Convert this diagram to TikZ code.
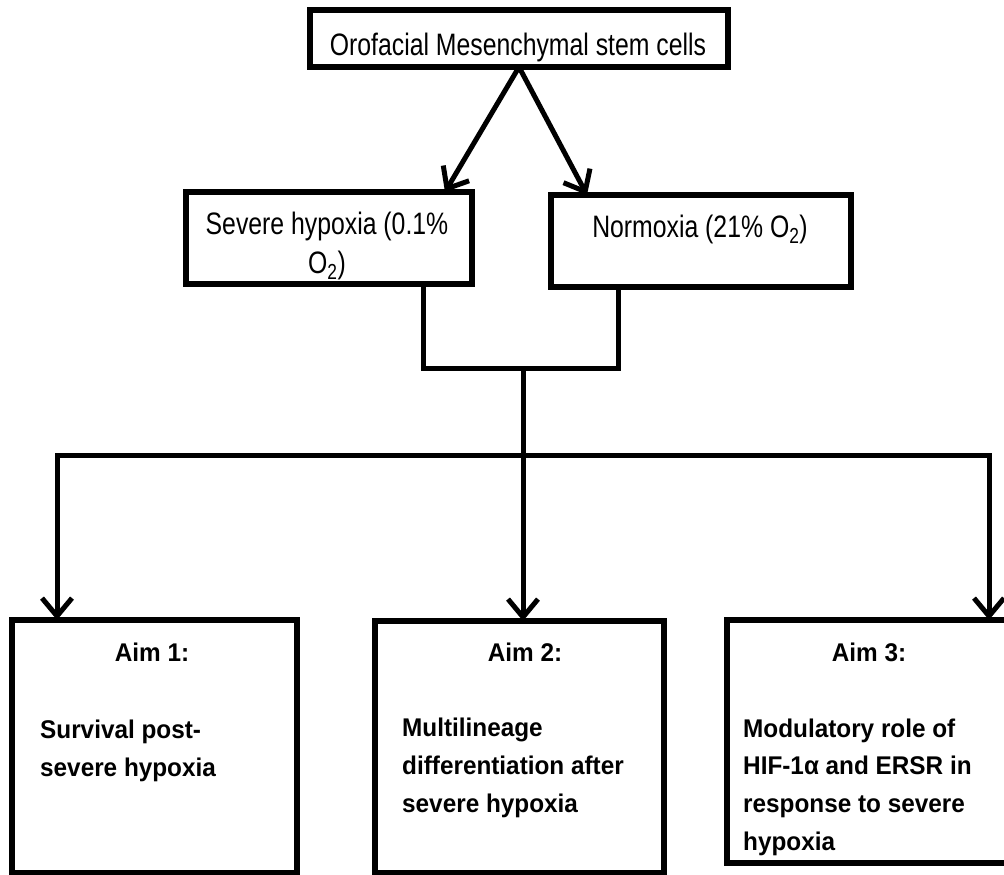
\documentclass[tikz,border=0pt]{standalone}
\usepackage{fontspec}
\setmainfont{Liberation Sans}
\newfontfamily\rfont[FakeStretch=0.8]{Liberation Sans}
\newfontfamily\bfont[FakeStretch=0.95]{Liberation Sans}
\usetikzlibrary{arrows.meta}
\begin{document}
\begin{tikzpicture}[x=1bp,y=-1bp,
  box/.style={draw, line width=5.5bp, inner sep=0pt, outer sep=0pt, anchor=north west},
  conn/.style={line width=5bp},
  arr/.style={conn, -{Straight Barb[length=18bp,width=30bp]}},
  rtxt/.style={font=\rfont\fontsize{31bp}{39bp}\selectfont, inner sep=0pt, anchor=base, align=center},
  btxt/.style={font=\bfont\bfseries\fontsize{25.6bp}{37.6bp}\selectfont, inner sep=0pt, anchor=base west, align=left}]
\path[fill=white, use as bounding box] (0,0) rectangle (1004,875);
% boxes
\node[box, minimum width=418bp, minimum height=57bp] (top) at (310,10) {};
\node[box, minimum width=286bp, minimum height=92bp] (sev) at (186,192) {};
\node[box, minimum width=300bp, minimum height=92bp] (norm) at (551,195) {};
\node[box, minimum width=285bp, minimum height=253bp] (aim1) at (12,620) {};
\node[box, minimum width=289bp, minimum height=252bp] (aim2) at (375,621) {};
\node[box, minimum width=283bp, minimum height=243bp] (aim3) at (727,620) {};
% texts (multi-line nodes are anchored at the baseline of their last line)
\node[rtxt] (ttop) at (518,55) {Orofacial Mesenchymal stem cells};
\node[rtxt] (tsev) at (327,273) {Severe hypoxia (0.1\%\\O\textsubscript{2})};
\node[rtxt] (tnorm) at (700,237) {Normoxia (21\% O\textsubscript{2})};
\node[btxt, anchor=base] (h1) at (152,661) {Aim 1:};
\node[btxt, anchor=base] (h2) at (525,661) {Aim 2:};
\node[btxt, anchor=base] (h3) at (869,661) {Aim 3:};
\node[btxt] (b1) at (40,776) {Survival post-\\severe hypoxia};
\node[btxt] (b2) at (402,812) {Multilineage\\differentiation after\\severe hypoxia};
\node[btxt] (b3) at (743,850) {Modulatory role of\\HIF-1α and ERSR in\\response to severe\\hypoxia};
% connectors
\draw[arr] (top.south) -- ([xshift=-27bp]sev.north east);
\draw[arr] (top.south) -- ([xshift=36bp]norm.north west);
\coordinate (jl) at (423,368);
\coordinate (jr) at (618,368);
\coordinate (jm) at (523,368);
\coordinate (hm) at (523,455);
\coordinate (hl) at (57,455);
\coordinate (hr) at (989,455);
\draw[conn] (sev.south -| jl) -- (jl) -- (jr) -- (norm.south -| jr);
\draw[arr] (jm) -- (aim2.north -| jm);
\draw[arr] (hm) -- (hl) -- (aim1.north -| hl);
\draw[arr] (hm) -- (hr) -- (aim3.north -| hr);
\end{tikzpicture}
\end{document}
